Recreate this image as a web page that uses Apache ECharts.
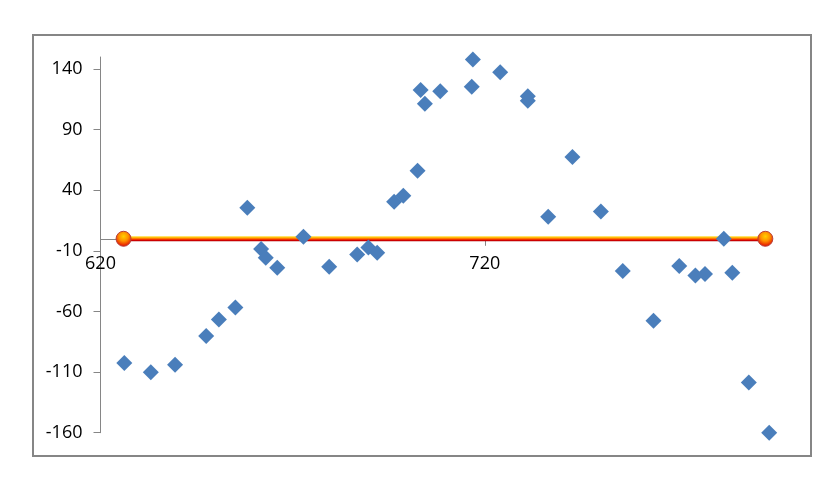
<!DOCTYPE html>
<html>
<head>
<meta charset="utf-8">
<script src="https://cdn.jsdelivr.net/npm/echarts@6/dist/echarts.min.js"></script>
<style>
html,body{margin:0;padding:0;background:#fff;}
#chart{width:834px;height:504px;}
</style>
</head>
<body>
<div id="chart"></div>
<script>
const xValues = [626.2, 633.1, 639.4, 647.5, 650.8, 655.1, 658.2, 661.8, 663.0, 666.0,
  672.8, 679.5, 686.8, 689.7, 692.0, 696.4, 698.8, 702.5, 703.3, 704.4,
  708.4, 716.6, 716.9, 724.0, 731.2, 731.2, 736.5, 742.8, 750.2, 755.9,
  763.9, 770.6, 774.8, 777.3, 782.2, 784.4, 788.7, 794.0];
const yValues = [-102.5, -110.2, -103.9, -80.3, -66.5, -56.6, 25.6, -8.5, -15.7, -23.9,
  1.6, -23.1, -12.9, -7.1, -11.5, 30.5, 35.5, 56.1, 122.7, 111.4,
  121.8, 125.4, 148.0, 137.5, 117.7, 113.8, 18.1, 67.4, 22.6, -26.6,
  -67.6, -22.5, -30.2, -29.1, 0.0, -28.0, -118.5, -160.0];
const lineX = [626, 793];
const lineY = [0, 0];
const yTicks = [-160, -110, -60, -10, 40, 90, 140];
const xTicks = [620, 720];

const chart = echarts.init(document.getElementById('chart'), null, {renderer: 'canvas'});
const fontFamily = '"Open Sans", "Liberation Sans", sans-serif';
const axisGray = '#868686';
const gridTop = 57, gridHeight = 375.7;

function buildOption(lineColor, xOffset) {
  return {
    animation: false,
    backgroundColor: '#ffffff',
    graphic: [{
      type: 'rect',
      shape: {x: 33, y: 35, width: 778, height: 421},
      style: {fill: 'none', stroke: axisGray, lineWidth: 2},
      z: -10
    }],
    grid: {left: 100.5, top: gridTop, width: 670.6, height: gridHeight, containLabel: false},
    xAxis: {
      type: 'value',
      min: 620,
      max: 794.5,
      offset: xOffset,
      axisLine: {show: true, onZero: false, lineStyle: {color: axisGray, width: 1}},
      axisTick: {show: true, length: 7, customValues: xTicks, lineStyle: {color: axisGray}},
      axisLabel: {customValues: xTicks, color: '#000', fontSize: 18, fontFamily: fontFamily, margin: 16},
      splitLine: {show: false}
    },
    yAxis: {
      type: 'value',
      min: -160,
      max: 150,
      axisLine: {show: true, onZero: false, lineStyle: {color: axisGray, width: 1}},
      axisTick: {show: true, length: 7, customValues: yTicks, lineStyle: {color: axisGray}},
      axisLabel: {customValues: yTicks, color: '#000', fontSize: 18, fontFamily: fontFamily, margin: 18},
      splitLine: {show: false}
    },
    series: [{
      type: 'line',
      data: lineX.map((x, i) => [x, lineY[i]]),
      symbol: 'circle',
      symbolSize: 15,
      showSymbol: true,
      lineStyle: {width: 5, color: lineColor},
      itemStyle: {
        color: new echarts.graphic.RadialGradient(0.5, 0.35, 0.65, [
          {offset: 0, color: '#FFD000'},
          {offset: 0.45, color: '#FF9000'},
          {offset: 1, color: '#E00000'}
        ]),
        borderColor: '#B8403A',
        borderWidth: 1,
        opacity: 1
      },
      z: 2
    }, {
      type: 'scatter',
      data: xValues.map((x, i) => [x, yValues[i]]),
      symbol: 'diamond',
      symbolSize: 16,
      itemStyle: {color: '#4A7EBB', opacity: 1},
      z: 3
    }]
  };
}

chart.setOption(buildOption('#FF6000', 0));
const y0 = chart.convertToPixel({yAxisIndex: 0}, 0);
const yBottom = gridTop + gridHeight;
const grad = new echarts.graphic.LinearGradient(0, y0 - 2.5, 0, y0 + 2.5, [
  {offset: 0, color: '#FFE040'},
  {offset: 0.3, color: '#FFB000'},
  {offset: 0.55, color: '#FF5000'},
  {offset: 0.8, color: '#D80000'},
  {offset: 1, color: '#A00000'}
], true);
chart.setOption(buildOption(grad, -(yBottom - y0)));
</script>
</body>
</html>
